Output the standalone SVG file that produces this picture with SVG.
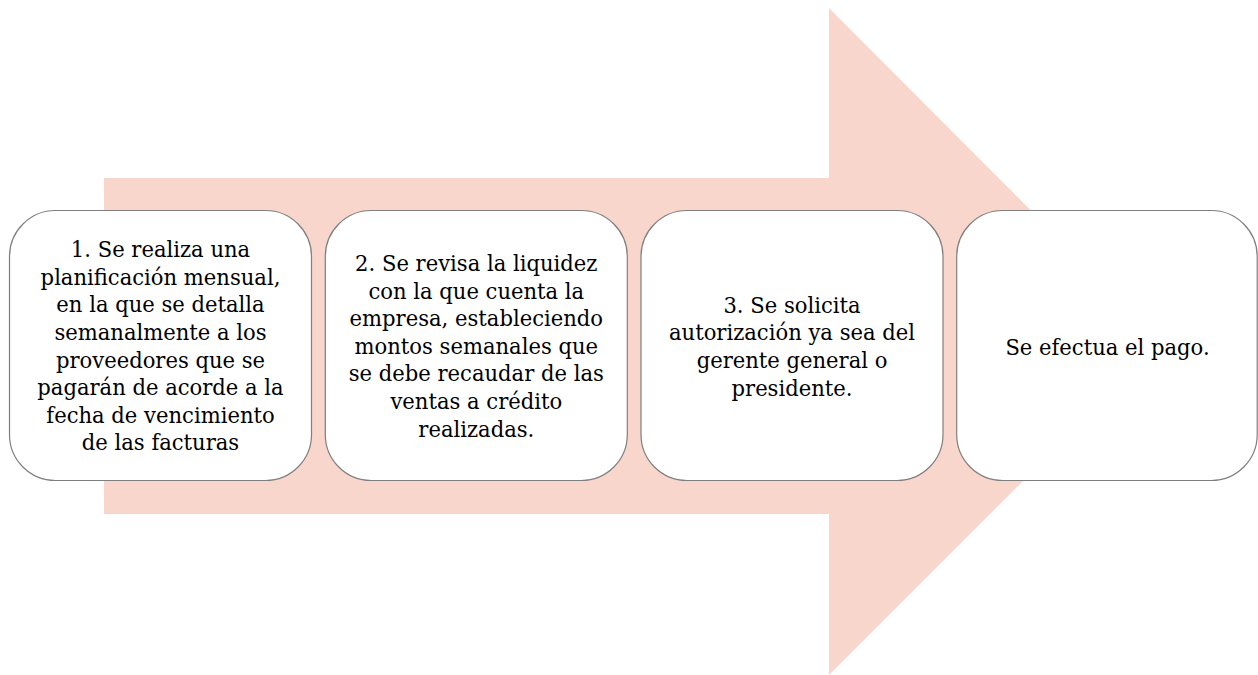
<svg xmlns="http://www.w3.org/2000/svg" width="1258" height="675" viewBox="0 0 1258 675">
  <style>
    .arrow { fill: #F8D6CC; }
    .box { fill: #FFFFFF; stroke: #7F7F7F; stroke-width: 1.2; }
  </style>
  <rect width="1258" height="675" fill="#FFFFFF"/>
  <g id="background-arrow">
    <polygon class="arrow" points="104,178 829,178 829,8 1162,342 829,675 829,514 104,514"/>
  </g>
  <g id="connectors"/>
  <g id="node1">
    <rect class="box" x="9.5" y="210.5" width="302" height="270" rx="46" ry="46"/>
    <g transform="translate(160.5,0) scale(0.96,1)" font-family="DejaVu Serif, serif" font-size="22" text-anchor="middle" fill="#000000">
      <text x="0" y="257.2">1. Se realiza una</text>
      <text x="0" y="284.8">planificación mensual,</text>
      <text x="0" y="312.4">en la que se detalla</text>
      <text x="0" y="340">semanalmente a los</text>
      <text x="0" y="367.6">proveedores que se</text>
      <text x="0" y="395.2">pagarán de acorde a la</text>
      <text x="0" y="422.8">fecha de vencimiento</text>
      <text x="0" y="450.4">de las facturas</text>
    </g>
  </g>
  <g id="node2">
    <rect class="box" x="325.3" y="210.5" width="302" height="270" rx="46" ry="46"/>
    <g transform="translate(476.3,0) scale(0.96,1)" font-family="DejaVu Serif, serif" font-size="22" text-anchor="middle" fill="#000000">
      <text x="0" y="271">2. Se revisa la liquidez</text>
      <text x="0" y="298.6">con la que cuenta la</text>
      <text x="0" y="326.2">empresa, estableciendo</text>
      <text x="0" y="353.8">montos semanales que</text>
      <text x="0" y="381.4">se debe recaudar de las</text>
      <text x="0" y="409">ventas a crédito</text>
      <text x="0" y="436.6">realizadas.</text>
    </g>
  </g>
  <g id="node3">
    <rect class="box" x="641" y="210.5" width="302" height="270" rx="46" ry="46"/>
    <g transform="translate(792,0) scale(0.96,1)" font-family="DejaVu Serif, serif" font-size="22" text-anchor="middle" fill="#000000">
      <text x="0" y="312.8">3. Se solicita</text>
      <text x="0" y="340.4">autorización ya sea del</text>
      <text x="0" y="368">gerente general o</text>
      <text x="0" y="395.6">presidente.</text>
    </g>
  </g>
  <g id="node4">
    <rect class="box" x="956.7" y="210.5" width="300.5" height="270" rx="46" ry="46"/>
    <g transform="translate(1107.5,0) scale(0.96,1)" font-family="DejaVu Serif, serif" font-size="22" text-anchor="middle" fill="#000000">
      <text x="0" y="355">Se efectua el pago.</text>
    </g>
  </g>
</svg>
